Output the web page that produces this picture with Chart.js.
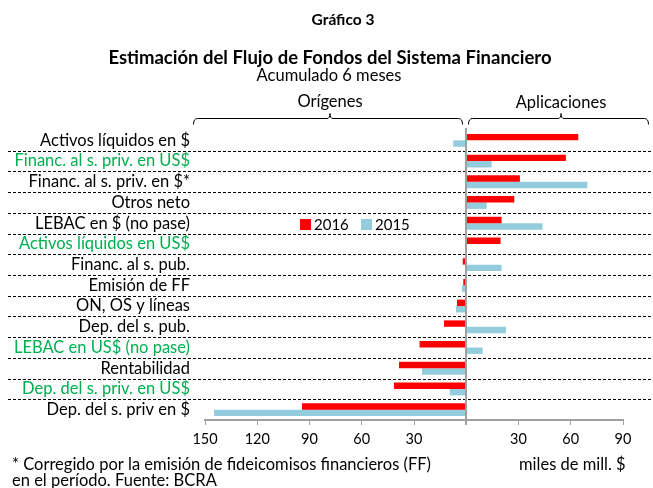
<!DOCTYPE html>
<html>
<head>
<meta charset="utf-8">
<script src="https://cdn.jsdelivr.net/npm/chart.js@4.4.1/dist/chart.umd.min.js"></script>
<style>
  html, body { margin: 0; padding: 0; background: #fff; }
  #wrap { position: relative; width: 653px; height: 488px; }
</style>
</head>
<body>
<div id="wrap"><canvas id="myChart" width="653" height="488"></canvas></div>
<script>
var categories = [
    "Activos líquidos en $",
    "Financ. al s. priv. en US$",
    "Financ. al s. priv. en $*",
    "Otros neto",
    "LEBAC en $ (no pase)",
    "Activos líquidos en US$",
    "Financ. al s. pub.",
    "Emisión de FF",
    "ON, OS y líneas",
    "Dep. del s. pub.",
    "LEBAC en US$ (no pase)",
    "Rentabilidad",
    "Dep. del s. priv. en US$",
    "Dep. del s. priv en $"
];
// rows written in green in the original
var greenRows = [1, 5, 10, 12];

var values2016 = [64.3, 57.2, 30.8, 27.6, 20.3, 19.7, -2.0, -1.7, -5.3, -12.8, -26.8, -38.6, -41.5, -94.3];
var values2015 = [-7.5, 14.6, 69.5, 11.7, 43.8, 0, 20.3, -2.5, -5.9, 22.8, 9.4, -25.4, -9.5, -144.8];

var xTicks = [-150, -120, -90, -60, -30, 0, 30, 60, 90];

var FONT = "Lato, 'Open Sans', sans-serif";
var RED = "#ff0000";
var BLUE = "#93cddd";
var GREEN = "#00b050";

function bracket(ctx, x1, x2, y, mid)
{
    ctx.beginPath();
    ctx.moveTo(x1, y + 6);
    ctx.quadraticCurveTo(x1, y, x1 + 4, y);
    ctx.lineTo(mid - 3, y);
    ctx.quadraticCurveTo(mid, y, mid, y - 5);
    ctx.quadraticCurveTo(mid, y, mid + 3, y);
    ctx.lineTo(x2 - 4, y);
    ctx.quadraticCurveTo(x2, y, x2, y + 6);
    ctx.stroke();
}

var decorations = {
    id: "decorations",
    beforeDatasetsDraw: function (chart)
    {
        var ctx = chart.ctx;
        var y = chart.scales.y;
        ctx.save();
        // dashed row separators
        ctx.strokeStyle = "#000";
        ctx.lineWidth = 1;
        ctx.setLineDash([3, 2]);
        for (var i = 1; i < categories.length; i++)
        {
            var py = Math.round((y.getPixelForValue(i - 1) + y.getPixelForValue(i)) / 2) + 0.5;
            ctx.beginPath();
            ctx.moveTo(8, py);
            ctx.lineTo(653, py);
            ctx.stroke();
        }
        ctx.restore();
    },
    afterDatasetsDraw: function (chart)
    {
        var ctx = chart.ctx;
        var x = chart.scales.x;
        var area = chart.chartArea;
        ctx.save();
        // zero line
        var zx = Math.round(x.getPixelForValue(0));
        ctx.strokeStyle = "#a0a0a0";
        ctx.lineWidth = 2;
        ctx.beginPath();
        ctx.moveTo(zx, area.top - 2);
        ctx.lineTo(zx, area.bottom + 5);
        ctx.stroke();

        // titles
        ctx.fillStyle = "#000";
        ctx.textAlign = "center";
        ctx.textBaseline = "middle";
        ctx.font = "bold 15.5px " + FONT;
        ctx.fillText("Gráfico 3", 343, 20);
        ctx.font = "bold 18.5px " + FONT;
        ctx.fillText("Estimación del Flujo de Fondos del Sistema Financiero", 330, 58);
        ctx.font = "16.5px " + FONT;
        ctx.fillText("Acumulado 6 meses", 329, 76);
        ctx.fillText("Orígenes", 330, 102);
        ctx.fillText("Aplicaciones", 561, 103);

        // brackets
        ctx.strokeStyle = "#000";
        ctx.lineWidth = 1;
        bracket(ctx, 193.5, 462.5, 118.5, 330);
        bracket(ctx, 468.5, 648.5, 118.5, 561);

        // legend
        ctx.textAlign = "left";
        ctx.font = "15px " + FONT;
        ctx.fillStyle = RED;
        ctx.fillRect(300, 219, 11, 11);
        ctx.fillStyle = "#000";
        ctx.fillText("2016", 314, 225);
        ctx.fillStyle = BLUE;
        ctx.fillRect(361, 219, 11, 11);
        ctx.fillStyle = "#000";
        ctx.fillText("2015", 375, 225);

        // notes
        ctx.font = "16.5px " + FONT;
        ctx.fillText("* Corregido por la emisión de fideicomisos financieros (FF)", 12, 465);
        ctx.fillText("en el período. Fuente: BCRA", 12, 481);
        ctx.fillText("miles de mill. $", 519, 465);
        ctx.restore();
    }
};

var chart = new Chart(document.getElementById("myChart").getContext("2d"), {
    type: "bar",
    data: {
        labels: categories,
        datasets: [
            { label: "2016", data: values2016, backgroundColor: RED, borderWidth: 0 },
            { label: "2015", data: values2015, backgroundColor: BLUE, borderWidth: 0 }
        ]
    },
    options: {
        indexAxis: "y",
        responsive: false,
        animation: false,
        devicePixelRatio: 1,
        layout: { padding: { left: 0, right: 30, top: 130, bottom: 38 } },
        datasets: { bar: { categoryPercentage: 0.62, barPercentage: 1.0 } },
        plugins: { legend: { display: false }, tooltip: { enabled: false } },
        scales: {
            x: {
                min: -150,
                max: 90,
                afterFit: function (s) { s.height = 30; },
                afterBuildTicks: function (s) { s.ticks = xTicks.map(function (v) { return { value: v }; }); },
                grid: { drawOnChartArea: false, color: "#a0a0a0", tickLength: 5, lineWidth: 1 },
                border: { color: "#a0a0a0", width: 2 },
                ticks: {
                    padding: 6,
                    maxRotation: 0,
                    color: "#000",
                    font: { family: FONT, size: 14.5 },
                    callback: function (v) { return v === 0 ? "" : Math.abs(v); }
                }
            },
            y: {
                afterFit: function (s) { s.width = 205; },
                grid: { display: false, drawTicks: false },
                border: { display: false },
                ticks: {
                    padding: 15,
                    autoSkip: false,
                    font: { family: FONT, size: 16.5 },
                    color: function (c) { return greenRows.indexOf(c.index) >= 0 ? GREEN : "#000"; }
                }
            }
        }
    },
    plugins: [decorations]
});
</script>
</body>
</html>
